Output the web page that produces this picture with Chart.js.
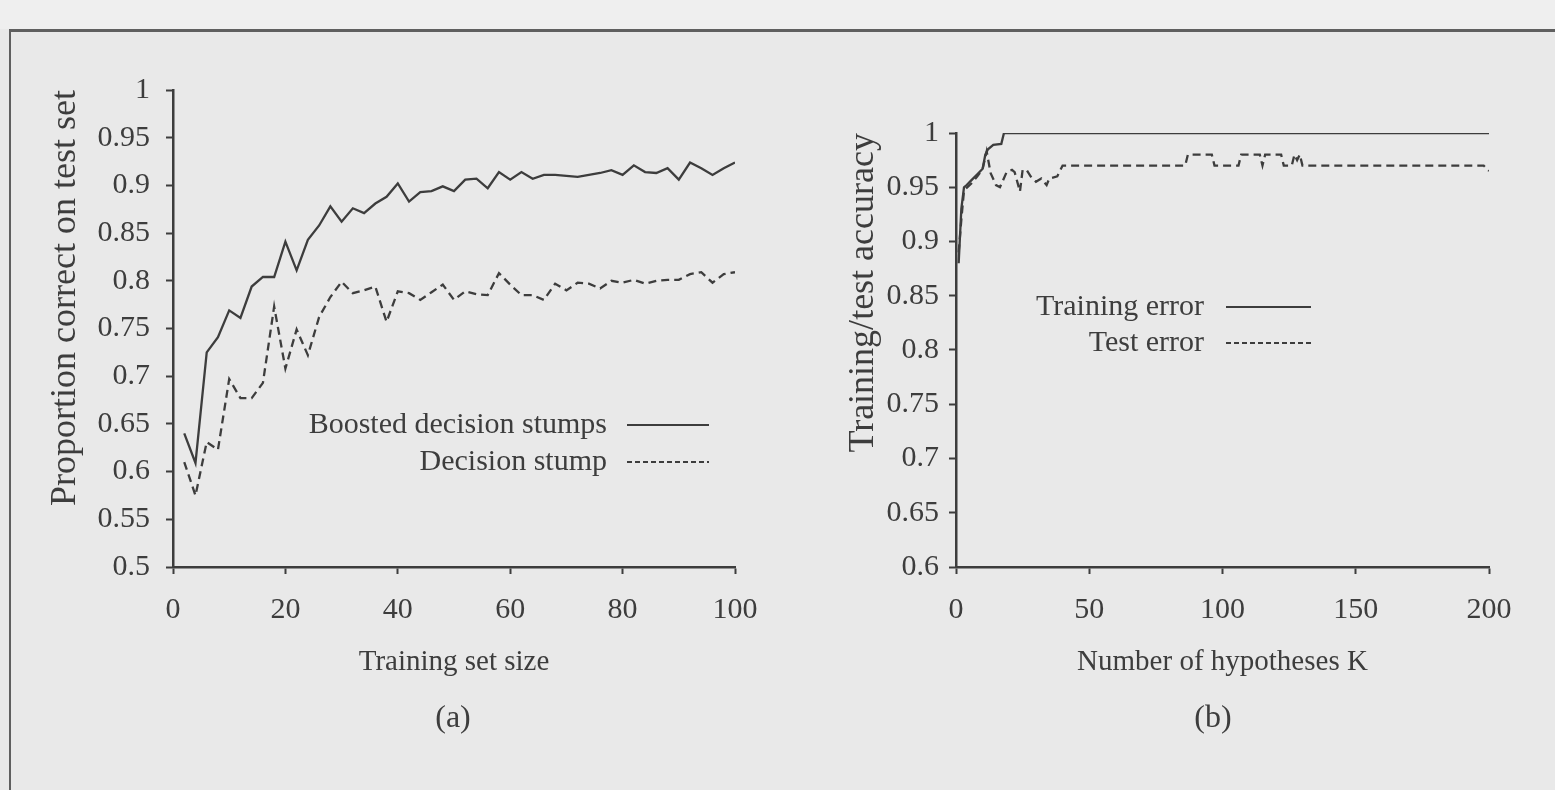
<!DOCTYPE html>
<html lang="en">
<head>
<meta charset="UTF-8">
<title>Boosted decision stumps</title>
<script src="https://cdn.jsdelivr.net/npm/chart.js"></script>
<style>
    body { margin: 0; width: 1555px; height: 790px; background: #e9e9e9; overflow: hidden; position: relative; font-family: "Liberation Serif", "DejaVu Serif", serif; color: #3d3d3d; }
    .frame { position: absolute; left: 9px; top: 29px; width: 1546px; height: 761px; border-top: 3px solid #5f5f5f; border-left: 2px solid #5f5f5f; }
    .top-strip { position: absolute; left: 0; top: 0; width: 1555px; height: 29px; background: #efefef; }
    .caption { position: absolute; top: 697px; font-size: 32px; line-height: 38px; width: 100px; text-align: center; }
    #chartA { position: absolute; left: 0; top: 0; }
    #chartB { position: absolute; left: 780px; top: 0; }
</style>
</head>
<body>
<div class="top-strip"></div>
<div class="frame"></div>
<canvas id="chartA" width="780" height="790"></canvas>
<canvas id="chartB" width="775" height="790"></canvas>
<div class="caption" style="left: 403px;">(a)</div>
<div class="caption" style="left: 1163px;">(b)</div>
<script>
// (a) proportion correct on test set vs training set size
const trainSizes = [2, 4, 6, 8, 10, 12, 14, 16, 18, 20, 22, 24, 26, 28, 30, 32, 34, 36, 38, 40,
    42, 44, 46, 48, 50, 52, 54, 56, 58, 60, 62, 64, 66, 68, 70, 72, 74, 76, 78, 80,
    82, 84, 86, 88, 90, 92, 94, 96, 98, 100];
const boostedStumps = [0.640, 0.609, 0.725, 0.741, 0.769, 0.761, 0.794, 0.804, 0.804, 0.841,
    0.811, 0.843, 0.858, 0.878, 0.862, 0.876, 0.871, 0.881, 0.888, 0.902,
    0.883, 0.893, 0.894, 0.899, 0.894, 0.906, 0.907, 0.897, 0.914, 0.906,
    0.914, 0.907, 0.911, 0.911, 0.910, 0.909, 0.911, 0.913, 0.916, 0.911,
    0.921, 0.914, 0.913, 0.918, 0.906, 0.924, 0.918, 0.911, 0.918, 0.924];
const singleStump = [0.610, 0.575, 0.631, 0.623, 0.697, 0.677, 0.677, 0.693, 0.773, 0.708,
    0.749, 0.722, 0.762, 0.783, 0.799, 0.787, 0.790, 0.794, 0.757, 0.789,
    0.787, 0.780, 0.788, 0.796, 0.780, 0.789, 0.786, 0.785, 0.808, 0.796,
    0.785, 0.785, 0.780, 0.797, 0.790, 0.798, 0.797, 0.792, 0.800, 0.798,
    0.801, 0.797, 0.800, 0.801, 0.801, 0.807, 0.809, 0.798, 0.807, 0.809];

// (b) training/test accuracy vs number of hypotheses K
const trainK = [1, 2, 3, 4, 6, 8, 10, 11, 12, 14, 17, 18, 200];
const trainAcc = [0.880, 0.930, 0.950, 0.952, 0.957, 0.962, 0.967, 0.980, 0.985, 0.989, 0.990, 1.0, 1.0];
const testK = [1, 2, 3, 6, 8, 10, 11.5, 13, 15, 16.5, 19, 21, 22, 24, 25, 26.5, 28, 30, 32, 34, 35, 38, 40,
    86, 87, 96, 97, 106, 107, 114, 115, 116, 122, 123, 126, 127, 128, 129, 130, 198, 200];
const testAcc = [0.890, 0.920, 0.947, 0.954, 0.960, 0.967, 0.983, 0.963, 0.952, 0.950, 0.964, 0.966, 0.964,
    0.946, 0.966, 0.966, 0.960, 0.955, 0.958, 0.952, 0.958, 0.960, 0.970,
    0.970, 0.980, 0.980, 0.970, 0.970, 0.980, 0.980, 0.970, 0.980, 0.980, 0.970, 0.970, 0.980, 0.975, 0.980,
    0.970, 0.970, 0.965];

const INK = '#3d3d3d';
const SERIF = '"Liberation Serif", "DejaVu Serif", serif';

// legend drawn inside the plot: text on the left, line sample on the right
const insideLegend = {
    id: 'insideLegend',
    afterDatasetsDraw(chart, args, opts) {
        const ctx = chart.ctx;
        ctx.save();
        ctx.font = opts.size + 'px ' + SERIF;
        ctx.fillStyle = INK;
        ctx.textAlign = 'right';
        ctx.textBaseline = 'middle';
        chart.data.datasets.forEach((ds, i) => {
            const y = opts.y + i * opts.gapY;
            ctx.fillText(ds.label, opts.x, y);
            ctx.beginPath();
            ctx.setLineDash(ds.borderDash ? opts.dash : []);
            ctx.lineWidth = 1.8;
            ctx.strokeStyle = INK;
            ctx.moveTo(opts.x + opts.gapX, y);
            ctx.lineTo(opts.x + opts.gapX + opts.sample, y);
            ctx.stroke();
        });
        ctx.restore();
    }
};

function pairs(xs, ys) {
    return xs.map((x, i) => ({ x: x, y: ys[i] }));
}

function numLabel(v) {
    return String(Math.round(v * 100) / 100);
}

function axis(min, max, step, title) {
    return {
        type: 'linear',
        min: min,
        max: max,
        grid: { drawOnChartArea: false, drawTicks: true, tickLength: 7, tickWidth: 2, tickColor: INK },
        border: { display: true, color: INK, width: 2.5 },
        ticks: { stepSize: step, color: INK, font: { family: SERIF, size: 30 }, callback: numLabel, maxRotation: 0, autoSkip: false },
        title: { display: true, text: title, color: INK, font: { family: SERIF, size: 29 } }
    };
}

function makeChart(id, datasets, cfg) {
    const xAxis = axis(cfg.xMin, cfg.xMax, cfg.xStep, cfg.xTitle);
    xAxis.ticks.padding = 18;
    xAxis.title.padding = { top: 0, bottom: 18 };
    xAxis.afterFit = s => { s.height = 131; };

    const yAxis = axis(cfg.yMin, cfg.yMax, 0.05, cfg.yTitle);
    yAxis.ticks.padding = cfg.yTickPad;
    yAxis.title.align = 'end';
    yAxis.title.font = { family: SERIF, size: 36 };
    yAxis.title.padding = { top: cfg.yTitlePad, bottom: 0 };
    yAxis.afterFit = s => { s.width = cfg.yWidth; };

    return new Chart(document.getElementById(id), {
        type: 'line',
        data: { datasets: datasets },
        options: {
            responsive: false,
            animation: false,
            layout: { padding: { top: cfg.top, right: cfg.right, bottom: 92, left: 0 } },
            scales: { x: xAxis, y: yAxis },
            plugins: {
                legend: { display: false },
                tooltip: { enabled: false },
                insideLegend: cfg.legend
            }
        },
        plugins: [insideLegend]
    });
}

function lineSet(label, data, dashed) {
    return {
        label: label,
        data: data,
        borderColor: INK,
        borderWidth: 2.3,
        borderDash: dashed ? [8, 5] : undefined,
        pointRadius: 0,
        tension: 0,
        fill: false
    };
}

makeChart('chartA', [
    lineSet('Boosted decision stumps', pairs(trainSizes, boostedStumps), false),
    lineSet('Decision stump', pairs(trainSizes, singleStump), true)
], {
    xMin: 0, xMax: 100, xStep: 20, xTitle: 'Training set size',
    yMin: 0.5, yMax: 1, yTitle: 'Proportion correct on test set',
    yWidth: 173, yTickPad: 16, yTitlePad: 44, top: 90, right: 45,
    legend: { x: 607, y: 425, gapY: 37, gapX: 20, sample: 82, size: 30, dash: [5, 3] }
});

makeChart('chartB', [
    lineSet('Training error', pairs(trainK, trainAcc), false),
    lineSet('Test error', pairs(testK, testAcc), true)
], {
    xMin: 0, xMax: 200, xStep: 50, xTitle: 'Number of hypotheses K',
    yMin: 0.6, yMax: 1, yTitle: 'Training/test accuracy',
    yWidth: 176, yTickPad: 10, yTitlePad: 62, top: 133, right: 66,
    legend: { x: 424, y: 307, gapY: 36, gapX: 22, sample: 85, size: 30, dash: [5, 3] }
});
</script>
</body>
</html>
